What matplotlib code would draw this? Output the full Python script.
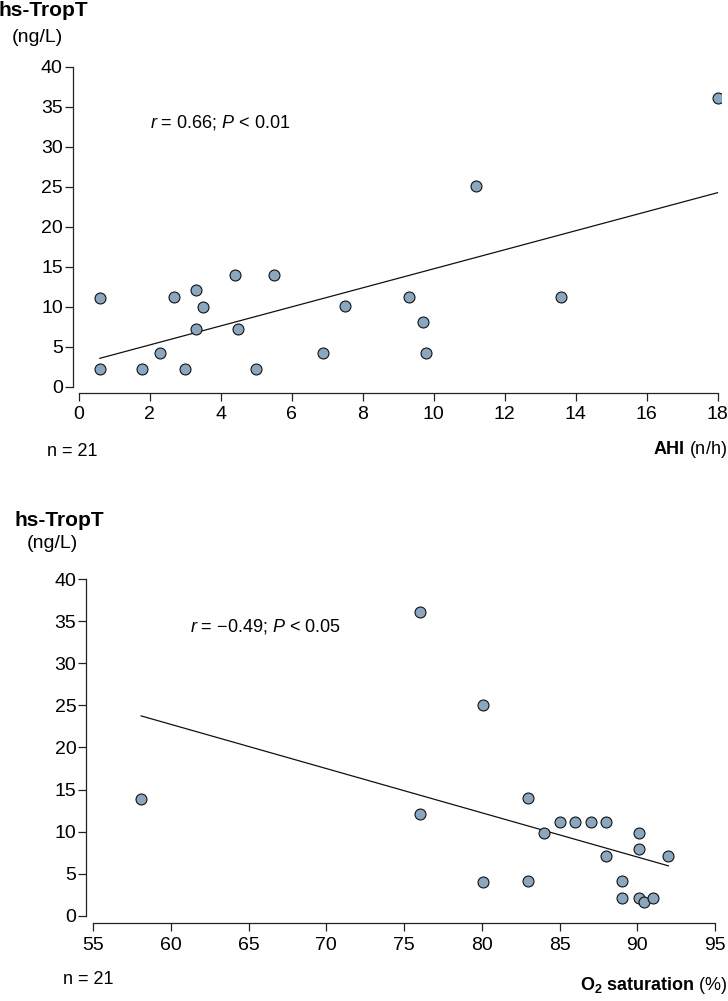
import matplotlib
matplotlib.use("Agg")
import matplotlib.pyplot as plt
import numpy as np

plt.rcParams["font.family"] = ["Liberation Sans", "DejaVu Sans"]
plt.rcParams["mathtext.fontset"] = "custom"
plt.rcParams["mathtext.rm"] = "Liberation Sans"
plt.rcParams["mathtext.it"] = "Liberation Sans:italic"
plt.rcParams["mathtext.bf"] = "Liberation Sans:bold"

# ── data ──
ahi = [0.6, 0.6, 1.8, 2.3, 2.7, 3.0, 3.3, 3.3, 3.5, 4.4, 4.5,
       5.0, 5.5, 6.9, 7.5, 9.3, 9.7, 9.8, 11.2, 13.6, 18.0]
tropt_ahi = [2.2, 11.1, 2.2, 4.2, 11.2, 2.2, 12.1, 7.2, 10.0, 14.0, 7.2,
             2.2, 14.0, 4.2, 10.1, 11.2, 8.1, 4.2, 25.1, 11.2, 36.1]
ahi_fit = (1.19, 2.83)          # slope, intercept

o2_sat = [58.1, 76.0, 76.0, 80.1, 80.1, 83.0, 83.0, 84.0, 85.0, 86.0, 87.0,
          88.0, 88.0, 89.0, 89.0, 90.1, 90.1, 90.1, 90.4, 91.0, 92.0]
tropt_o2 = [13.9, 36.1, 12.1, 25.0, 4.0, 14.0, 4.1, 9.9, 11.1, 11.1, 11.1,
            11.1, 7.1, 4.1, 2.1, 9.9, 8.0, 2.1, 1.7, 2.1, 7.1]
o2_fit = (-0.525, 54.25)

ahi_ticks = [0, 2, 4, 6, 8, 10, 12, 14, 16, 18]
o2_ticks = [55, 60, 65, 70, 75, 80, 85, 90, 95]
y_ticks = [0, 5, 10, 15, 20, 25, 30, 35, 40]

W, H = 728, 1001
FS = 13
TICK_FS = 14
MARKER = "#8ba7bf"


def fx(px):
    return px / W


def fy(py):
    return 1 - py / H


def style_axis(ax, xticks):
    for side in ("top", "right"):
        ax.spines[side].set_visible(False)
    ax.spines["left"].set_bounds(0, 40)
    ax.spines["bottom"].set_bounds(xticks[0], xticks[-1])
    for side in ("left", "bottom"):
        ax.spines[side].set_linewidth(0.9)
        ax.spines[side].set_color("#222222")
    ax.set_xticks(xticks)
    ax.set_yticks(y_ticks)
    ax.tick_params(direction="out", length=5.5, width=0.9, color="#222222",
                   labelsize=TICK_FS)
    ax.tick_params(axis="x", pad=4.5)
    ax.tick_params(axis="y", pad=1.5)


def scatter_panel(ax, x, y, fit, xticks):
    ax.scatter(x, y, s=62, color=MARKER, edgecolor="#111111", linewidth=0.8, zorder=5)
    xs = np.array([min(x), max(x)])
    ax.plot(xs, fit[0] * xs + fit[1], color="#111111", linewidth=0.9, zorder=4)
    style_axis(ax, xticks)


fig = plt.figure(figsize=(W / 100, H / 100), dpi=100)

# ── Top panel: AHI ──
ax_top = fig.add_axes([fx(72.5), fy(392.5), (721.1 - 72.5) / W, (392.5 - 58.7) / H])
scatter_panel(ax_top, ahi, tropt_ahi, ahi_fit, ahi_ticks)
ax_top.set_xlim(-0.17, 18.1)
ax_top.set_ylim(-0.73, 41)

# ── Bottom panel: O2 saturation ──
ax_bot = fig.add_axes([fx(86), fy(922.7), (719.7 - 86) / W, (922.7 - 570.6) / H])
scatter_panel(ax_bot, o2_sat, tropt_o2, o2_fit, o2_ticks)
ax_bot.set_xlim(54.55, 95.3)
ax_bot.set_ylim(-0.8, 41)

# ── labels ──
fig.text(fx(-2), fy(10), "hs-TropT", fontsize=15, fontweight="bold", va="center")
fig.text(fx(12), fy(38), "(ng/L)", fontsize=14, va="center")
fig.text(fx(150), fy(122), r"$r$ = 0.66; $P$ < 0.01", fontsize=FS, va="center")
fig.text(fx(47), fy(452), "n = 21", fontsize=FS, va="center")
fig.text(fx(727), fy(450), r"$\mathbf{AHI}$ (n/h)", fontsize=FS, ha="right", va="center")

fig.text(fx(14), fy(521), "hs-TropT", fontsize=15, fontweight="bold", va="center")
fig.text(fx(27), fy(543), "(ng/L)", fontsize=14, va="center")
fig.text(fx(190), fy(627), r"$r$ = −0.49; $P$ < 0.05", fontsize=FS, va="center")
fig.text(fx(63), fy(980), "n = 21", fontsize=FS, va="center")
fig.text(fx(728), fy(985), r"$\mathbf{O_2\ saturation}$ (%)", fontsize=FS,
         ha="right", va="center")

fig.savefig("out.png", dpi=100, facecolor="white")
